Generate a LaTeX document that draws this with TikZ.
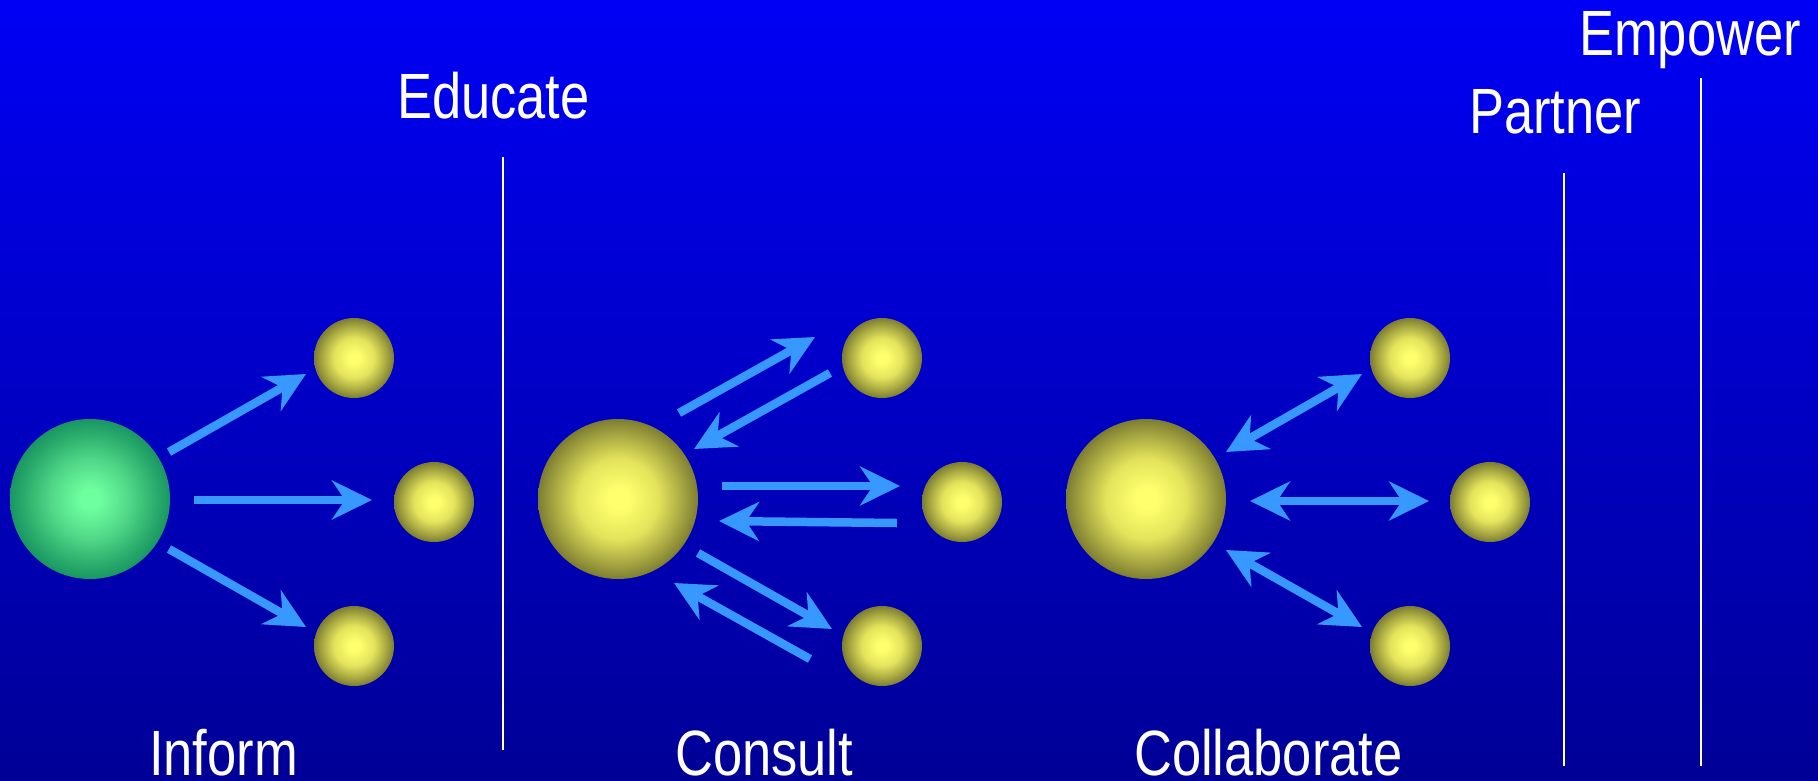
\documentclass[tikz,border=0pt]{standalone}
\usepackage{fontspec}
\setmainfont{Liberation Sans}[FakeStretch=0.82]
\usetikzlibrary{arrows.meta,calc}
\definecolor{bgtop}{RGB}{0,0,245}
\definecolor{bgbot}{RGB}{0,0,150}
\definecolor{arrowblue}{RGB}{55,153,255}
\definecolor{yc}{RGB}{255,255,110}
\definecolor{ym}{RGB}{228,228,92}
\definecolor{ym2}{RGB}{168,168,66}
\definecolor{ye}{RGB}{125,125,50}
\definecolor{gc}{RGB}{110,255,160}
\definecolor{gm}{RGB}{80,215,135}
\definecolor{gm2}{RGB}{45,175,110}
\definecolor{ge}{RGB}{25,150,98}
\pgfdeclareradialshading{yballshade}{\pgfpoint{0bp}{0bp}}{color(0bp)=(yc); color(3bp)=(yc); color(12.5bp)=(ym); color(20bp)=(ym2); color(25bp)=(ye); color(50bp)=(ye)}
\pgfdeclareradialshading{gballshade}{\pgfpoint{0bp}{0bp}}{color(0bp)=(gc); color(3bp)=(gc); color(12.5bp)=(gm); color(20bp)=(gm2); color(25bp)=(ge); color(50bp)=(ge)}
\tikzset{
  bigball/.style={circle, inner sep=0pt, minimum size=160pt},
  smallball/.style={circle, inner sep=0pt, minimum size=80pt, shading=yballshade},
  yb/.style={shading=yballshade},
  gb/.style={shading=gballshade},
  flow/.style={draw=arrowblue, line width=8.5pt, -{Stealth[length=40pt, width=39pt, inset=13pt]}},
  flowboth/.style={draw=arrowblue, line width=8.5pt, {Stealth[length=40pt, width=39pt, inset=13pt]}-{Stealth[length=40pt, width=39pt, inset=13pt]}},
  divider/.style={draw=white, line width=2.3pt},
  lbl/.style={text=white, inner sep=0pt, anchor=base west, font=\fontsize{64}{70}\selectfont}
}
\begin{document}
\begin{tikzpicture}[x=1pt, y=-1pt]
\useasboundingbox (0,0) rectangle (1818,780);
\shade[top color=bgtop, bottom color=bgbot] (0,0) rectangle (1818,780);

% Inform
\node[bigball, gb] (i0) at (90,499) {};
\node[smallball] (i1) at (354,358) {};
\node[smallball] (i2) at (434,502) {};
\node[smallball] (i3) at (354,646) {};
\coordinate (ia1s) at (169,452); \coordinate (ia1e) at (306,374);
\coordinate (ia2s) at (194,500); \coordinate (ia2e) at (372,500);
\coordinate (ia3s) at (169,549); \coordinate (ia3e) at (306,627);
\draw[flow] (ia1s) -- (ia1e);
\draw[flow] (ia2s) -- (ia2e);
\draw[flow] (ia3s) -- (ia3e);

% Consult
\node[bigball, yb] (c0) at (618,499) {};
\node[smallball] (c1) at (882,358) {};
\node[smallball] (c2) at (962,502) {};
\node[smallball] (c3) at (882,646) {};
\coordinate (ca1s) at (679,413); \coordinate (ca1e) at (815,337);
\coordinate (ca2s) at (830,373); \coordinate (ca2e) at (694,449);
\coordinate (ca3s) at (722,486); \coordinate (ca3e) at (900,486);
\coordinate (ca4s) at (897,523); \coordinate (ca4e) at (719,521);
\coordinate (ca5s) at (698,553); \coordinate (ca5e) at (832,629);
\coordinate (ca6s) at (810,659); \coordinate (ca6e) at (674,583);
\draw[flow] (ca1s) -- (ca1e);
\draw[flow] (ca2s) -- (ca2e);
\draw[flow] (ca3s) -- (ca3e);
\draw[flow] (ca4s) -- (ca4e);
\draw[flow] (ca5s) -- (ca5e);
\draw[flow] (ca6s) -- (ca6e);

% Collaborate
\node[bigball, yb] (k0) at (1146,499) {};
\node[smallball] (k1) at (1410,358) {};
\node[smallball] (k2) at (1490,502) {};
\node[smallball] (k3) at (1410,646) {};
\coordinate (ka1s) at (1226,452); \coordinate (ka1e) at (1362,374);
\coordinate (ka2s) at (1250,501); \coordinate (ka2e) at (1429,501);
\coordinate (ka3s) at (1226,550); \coordinate (ka3e) at (1362,627);
\draw[flowboth] (ka1s) -- (ka1e);
\draw[flowboth] (ka2s) -- (ka2e);
\draw[flowboth] (ka3s) -- (ka3e);

% Dividers
\coordinate (d1t) at (503,157); \coordinate (d1b) at (503,750);
\coordinate (d2t) at (1564,173); \coordinate (d2b) at (1564,766);
\coordinate (d3t) at (1701,78); \coordinate (d3b) at (1701,766);
\draw[divider] (d1t) -- (d1b);
\draw[divider] (d2t) -- (d2b);
\draw[divider] (d3t) -- (d3b);

% Labels
\node[lbl] (educate) at (397,118) {Educate};
\node[lbl] (partner) at (1469,133) {Partner};
\node[lbl] (empower) at (1579,55) {Empower};
\node[lbl] (inform) at (149,775) {Inform};
\node[lbl] (consult) at (675,775) {Consult};
\node[lbl] (collab) at (1134,775) {Collaborate};
\end{tikzpicture}
\end{document}
